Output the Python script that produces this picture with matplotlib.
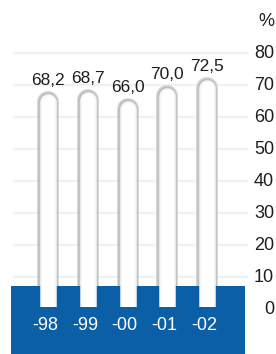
import matplotlib
matplotlib.use("Agg")
import matplotlib.pyplot as plt
from matplotlib.patches import Rectangle

years = ["-98", "-99", "-00", "-01", "-02"]
values = [68.2, 68.7, 66.0, 70.0, 72.5]
value_labels = ["68,2", "68,7", "66,0", "70,0", "72,5"]
yticks = [0, 10, 20, 30, 40, 50, 60, 70, 80]
unit = "%"

plt.rcParams['font.family'] = ['Liberation Sans', 'DejaVu Sans']

W, H = 276, 354
fig = plt.figure(figsize=(W / 100, H / 100), dpi=100)
ax = fig.add_axes([0, 0, 1, 1])

px_per_y = 3.2      # pixels per value unit
y0_px = 309         # pixel row of value 0 (from top)
x0_px = 48          # pixel column of first tube
px_per_x = 39.75

ymax = y0_px / px_per_y
ymin = -(H - y0_px) / px_per_y
xmin = -x0_px / px_per_x
xmax = (W - x0_px) / px_per_x
ax.set_xlim(xmin, xmax)
ax.set_ylim(ymin, ymax)
ax.axis('off')

blue = '#0b5fa6'
band_left = (11 - x0_px) / px_per_x
band_right = (245 - x0_px) / px_per_x
band_top = 7.2

# grid lines
for t in yticks[1:]:
    ax.plot([(13 - x0_px) / px_per_x, (248 - x0_px) / px_per_x], [t, t],
            color='#f1f1f1', lw=1.6, zorder=1, solid_capstyle='butt')

outer_px = 22
inner_px = 16.5
outer_lw = outer_px * 72 / 100
inner_lw = inner_px * 72 / 100
xs = list(range(len(values)))
for x, v in zip(xs, values):
    top_center = v - (outer_px / 2) / px_per_y
    ax.plot([x, x], [-5, top_center], color='#d6d6d6', lw=outer_lw,
            solid_capstyle='round', zorder=2)
    ax.plot([x, x], [-5, top_center], color='#c0c0c0', lw=(outer_px - 2.5) * 0.72,
            solid_capstyle='round', zorder=2.1)
    ax.plot([x, x], [-5, top_center], color='#f7f7f7', lw=inner_lw,
            solid_capstyle='round', zorder=4)
    ax.plot([x, x], [-5, top_center], color='white', lw=(inner_px - 4) * 0.72,
            solid_capstyle='round', zorder=4.1)

ax.add_patch(Rectangle((band_left, ymin - 1), band_right - band_left, band_top - ymin + 1,
                       facecolor=blue, edgecolor='none', zorder=3))
ax.add_patch(Rectangle((band_left, ymin - 1), band_right - band_left, 0.6 - ymin + 1,
                       facecolor=blue, edgecolor='none', zorder=5))

fs_val = 12.5
fs = 13
for x, v, lab in zip(xs, values, value_labels):
    ax.annotate(lab, (x, v), xytext=(0, 2), textcoords='offset points',
                ha='center', va='bottom', fontsize=fs_val, color='#1e1e1e', zorder=6)

for x, y in zip(xs, years):
    ax.annotate(y, (x, -5.3), xytext=(-2, 0), textcoords='offset points',
                ha='center', va='center', fontsize=fs, color='white', zorder=6)

tick_x = (274 - x0_px) / px_per_x
for t in yticks:
    ax.text(tick_x, t, str(t), ha='right', va='center', fontsize=fs,
            color='#1e1e1e', zorder=6)
ax.text(tick_x, (y0_px - 21) / px_per_y, unit, ha='right', va='center',
        fontsize=fs, color='#1e1e1e', zorder=6)

fig.savefig('out.png', dpi=100)
